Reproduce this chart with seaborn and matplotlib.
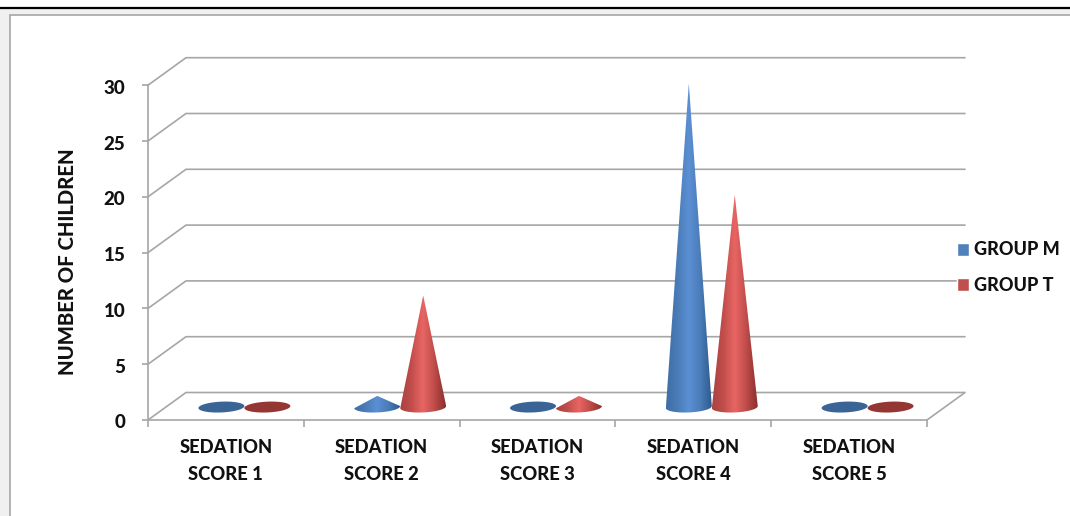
import numpy as np
import pandas as pd
import matplotlib
matplotlib.use("Agg")
import matplotlib.pyplot as plt
from matplotlib.colors import LinearSegmentedColormap
from matplotlib.patches import Rectangle, Polygon
from matplotlib.transforms import ScaledTranslation
import seaborn as sns

categories = ["SEDATION\nSCORE 1", "SEDATION\nSCORE 2", "SEDATION\nSCORE 3",
              "SEDATION\nSCORE 4", "SEDATION\nSCORE 5"]
group_m = [0, 1, 0, 29, 0]
group_t = [0, 10, 1, 19, 0]
y_ticks = [0, 5, 10, 15, 20, 25, 30]

W, H = 1070, 516
GRID = "#a6a6a6"
TEXT = "#111111"

sns.set_theme(style="white")
plt.rcParams["font.family"] = ["Lato", "DejaVu Sans"]
plt.rcParams["font.weight"] = 900

df = pd.DataFrame({
    "score": categories * 2,
    "count": group_m + group_t,
    "group": ["GROUP M"] * 5 + ["GROUP T"] * 5,
})

fig = plt.figure(figsize=(W / 100, H / 100), dpi=100, facecolor="white")

# window chrome around the pasted chart
fig.patches.append(Rectangle((0, 0), 1, 1 - 8 / H, transform=fig.transFigure,
                             fc="#f0f0f0", ec="none", zorder=-10))
fig.patches.append(Rectangle((10 / W, -0.1), 1.1, 1.1 - 15 / H, transform=fig.transFigure,
                             fc="white", ec=GRID, lw=1.2, zorder=-9))
fig.add_artist(plt.Line2D([0, 1], [1 - 7.5 / H] * 2, color="black", lw=1.6))

ax = fig.add_axes([148 / W, 1 - 420 / H, (965 - 148) / W, (420 - 58) / H])
ax.patch.set_alpha(0)

palette = {"GROUP M": "#4f81bd", "GROUP T": "#c0504d"}
sns.barplot(data=df, x="score", y="count", hue="group", palette=palette,
            saturation=1, width=0.59, gap=0, ax=ax)

# scales in data units, taken from the pixel size of one category / one count
X_UNIT = 155.8
Y_UNIT = 11.16
xlim = (-0.5, -0.5 + (965 - 148) / X_UNIT)
ylim = (0, (420 - 58) / Y_UNIT)
depth_x = 38 / X_UNIT
depth_y = 27.5 / Y_UNIT

# back wall gridlines and the left side wall
for v in y_ticks:
    ax.plot([-0.5, -0.5 + depth_x, xlim[1]], [v, v + depth_y, v + depth_y],
            color=GRID, lw=1.2, zorder=1, clip_on=False)
ax.plot([4.5, xlim[1]], [0, depth_y], color=GRID, lw=1.2, zorder=1)

ramps = {
    "GROUP M": (["#3f6ea6", "#4a7cb8", "#5c90d4", "#4a7cb8", "#2f5a8e"], "#3a6496"),
    "GROUP T": (["#a84340", "#c24e4c", "#e86664", "#bf4c4a", "#8c2f2d"], "#943634"),
}


def draw_cone(center, value, half, group, order):
    ramp, flat = ramps[group]
    # cones stand half way into the floor depth
    center = center + depth_x / 2 - 0.5 / X_UNIT
    cy = depth_y / 2 - 0.8 / Y_UNIT
    b = 5.4 / Y_UNIT
    tilt = 0.6
    t = np.linspace(0, 2 * np.pi, 90)
    ex = center + half * np.cos(t)
    ey = cy + b * np.sin(t) + tilt * half * np.cos(t)
    if value == 0:
        ax.fill(ex, ey, color=flat, lw=0, zorder=order)
        return
    lower = t[t >= np.pi]
    outline = np.column_stack([
        np.r_[center + half * np.cos(lower), center],
        np.r_[cy + b * np.sin(lower) + tilt * half * np.cos(lower), value + cy],
    ])
    clip = Polygon(outline, closed=True, transform=ax.transData, fc="none", ec="none")
    ax.add_patch(clip)
    cmap = LinearSegmentedColormap.from_list(group, ramp)
    im = ax.imshow(np.linspace(0, 1, 64)[None, :], cmap=cmap, aspect="auto",
                   extent=(center - half, center + half, cy - 2 * b, value + cy),
                   zorder=order, interpolation="bilinear")
    im.set_clip_path(clip)


# seaborn places the bars, the cones are then drawn on the same positions
bars = list(ax.patches)
shapes = [(b.get_x() + b.get_width() / 2, b.get_height(), b.get_width() / 2) for b in bars]
for b in bars:
    b.set_visible(False)
names = ["GROUP M"] * 5 + ["GROUP T"] * 5
for i, (shape, name) in enumerate(zip(shapes, names)):
    draw_cone(shape[0], shape[1], shape[2], name, 3 + i % 5 + (0.5 if name == "GROUP T" else 0))

ax.set_xlim(*xlim)
ax.set_ylim(*ylim)

for side in ["top", "right"]:
    ax.spines[side].set_visible(False)
ax.spines["left"].set_bounds(0, 30)
ax.spines["bottom"].set_bounds(-0.5, 4.5)
for side in ["left", "bottom"]:
    ax.spines[side].set_color(GRID)
    ax.spines[side].set_linewidth(1.2)

ax.set_yticks(y_ticks)
ax.set_xticks(range(5))
ax.set_xticklabels(categories, linespacing=1.7)
ax.set_xticks(np.arange(-0.5, 5), minor=True)
ax.tick_params(axis="x", which="major", length=0, pad=14, labelsize=13.2, labelcolor=TEXT)
ax.tick_params(axis="x", which="minor", length=5, width=1.2, color=GRID, bottom=True)
ax.tick_params(axis="y", length=4.3, width=1.2, color=GRID, left=True, pad=12,
               labelsize=13.5, labelcolor=TEXT)
# tick digits sit a little lower than the tick marks
for lab in ax.get_yticklabels():
    lab.set_transform(lab.get_transform() + ScaledTranslation(0, -1.5 / 100, fig.dpi_scale_trans))
ax.set_xlabel("")
ax.set_ylabel("NUMBER OF CHILDREN", fontsize=14.6, fontweight=900, color=TEXT)
ax.yaxis.set_label_coords((77 - 148) / (965 - 148), (420 - 262) / (420 - 58))

sns.move_legend(ax, "center left", bbox_to_anchor=(957 / W, 1 - 267.5 / H),
                bbox_transform=fig.transFigure, frameon=False, title=None,
                fontsize=13.0, handlelength=0.68, handleheight=0.75, borderpad=0,
                borderaxespad=0, handletextpad=0.27, labelspacing=1.0, labelcolor=TEXT)

fig.savefig("out.png", dpi=100)
